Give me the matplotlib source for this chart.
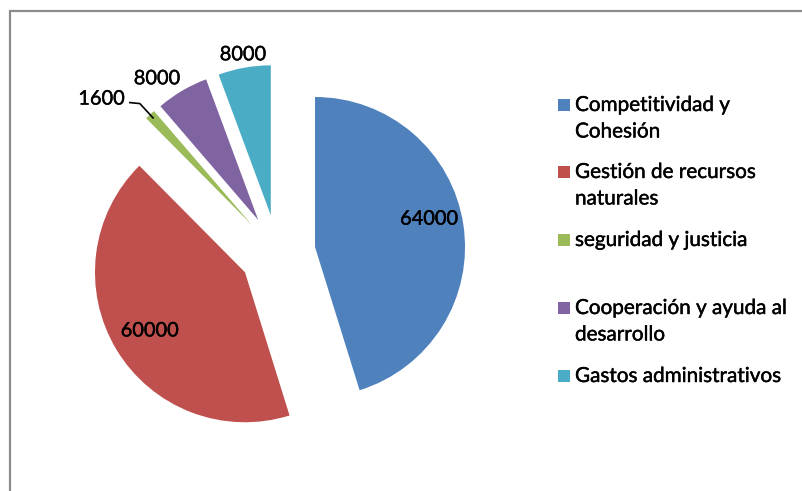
import matplotlib.pyplot as plt
from matplotlib.patches import Rectangle
import matplotlib.patheffects as pe
import numpy as np

# data
categories = ["Competitividad y\nCohesión", "Gestión de recursos\nnaturales",
              "seguridad y justicia", "Cooperación y ayuda al\ndesarrollo",
              "Gastos administrativos"]
values = [64000, 60000, 1600, 8000, 8000]
colors = ["#4F81BD", "#C0504D", "#9BBB59", "#8064A2", "#4BACC6"]

plt.rcParams['font.family'] = ['Lato', 'DejaVu Sans']
FS = 14.4
thick = [pe.withStroke(linewidth=0.3, foreground='black')]

W, H = 803, 491
fig = plt.figure(figsize=(W / 100, H / 100), dpi=100)
ax = fig.add_axes([0, 0, 1, 1])

# pie geometry in pixels
R = 150.0
cx, cy = 277.5, H - 252.7
px = 1 / R

wedges, _ = ax.pie(values, colors=colors, startangle=90, counterclock=False,
                   explode=[0.253] * len(values), radius=1,
                   wedgeprops=dict(linewidth=0))
ax.set_xlim(-cx / R, (W - cx) / R)
ax.set_ylim(-cy / R, (H - cy) / R)
ax.set_aspect('auto')
ax.axis('off')


def at(w, dist):
    mid = np.deg2rad((w.theta1 + w.theta2) / 2)
    return w.center[0] + dist * np.cos(mid), w.center[1] + dist * np.sin(mid)


# data labels
x, y = at(wedges[0], 0.77)
ax.text(x, y + 12 * px, f"{values[0]}", ha='center', va='center_baseline', fontsize=FS, path_effects=thick)
x, y = at(wedges[1], 0.74)
ax.text(x, y, f"{values[1]}", ha='center', va='center_baseline', fontsize=FS, path_effects=thick)
x, y = at(wedges[3], 1.05)
ax.text(x + 2 * px, y, f"{values[3]}", ha='right', va='baseline', fontsize=FS, path_effects=thick)
x, y = at(wedges[4], 1.05)
ax.text(x, y, f"{values[4]}", ha='center', va='baseline', fontsize=FS, path_effects=thick)

# small slice with leader line
x0, y0 = at(wedges[2], 0.97)
x1, y1 = at(wedges[2], 1.10)
ax.plot([x0, x1, x1 - 10 * px], [y0, y1, y1 + 1 * px], color='black', lw=1.2)
ax.text(x1 - 15 * px, y1 - 1 * px, f"{values[2]}", ha='right', va='baseline', fontsize=FS, path_effects=thick)

# legend
baselines = [111, 178, 246, 314, 382]
for lab, col, b in zip(categories, colors, baselines):
    fig.add_artist(Rectangle((558 / W, 1 - b / H), 12 / W, 12 / H,
                             transform=fig.transFigure, color=col, lw=0))
    for k, line in enumerate(lab.split("\n")):
        fig.text(575 / W, 1 - (b + 26.5 * k) / H, line, ha='left', va='baseline',
                 fontsize=14.9, path_effects=thick)

# chart border
fig.add_artist(Rectangle((10 / W, -0.1), 1.2, 1.1 - 11 / H, transform=fig.transFigure,
                         fill=False, ec='#8c8c8c', lw=1.6))

fig.savefig("out.png", dpi=100)
